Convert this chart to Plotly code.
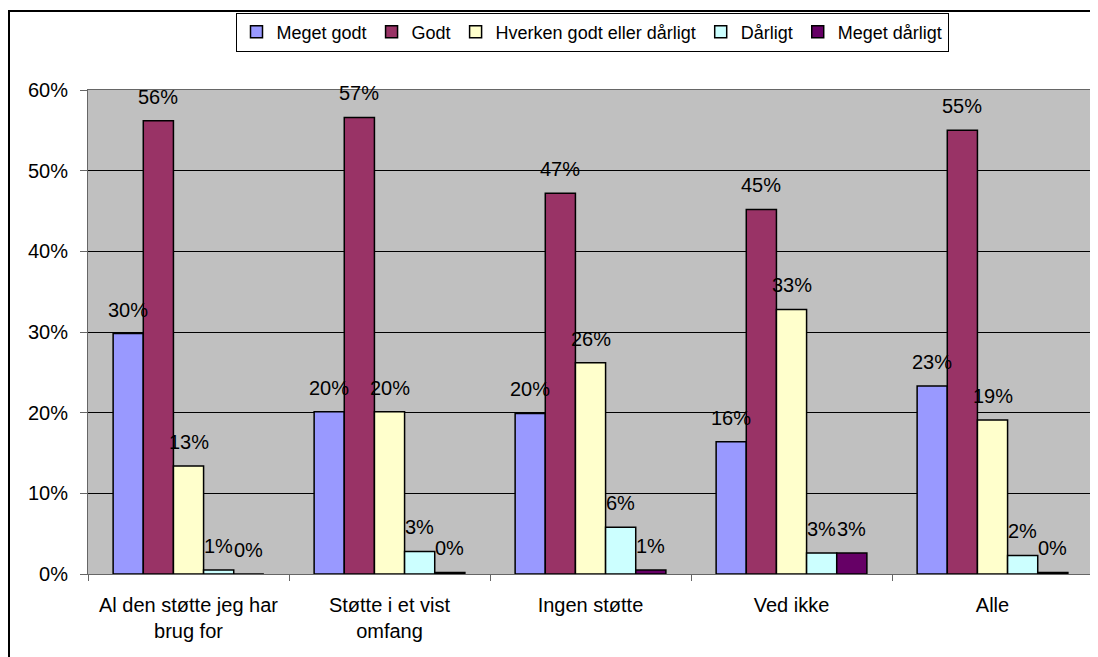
import math
import plotly.graph_objects as go

categories = ["Al den støtte jeg har<br>brug for", "Støtte i et vist<br>omfang", "Ingen støtte", "Ved ikke", "Alle"]
series_names = ["Meget godt", "Godt", "Hverken godt eller dårligt", "Dårligt", "Meget dårligt"]
meget_godt = [29.8, 20.1, 19.9, 16.4, 23.3]
godt = [56.2, 56.6, 47.2, 45.2, 55.0]
hverken = [13.4, 20.1, 26.2, 32.8, 19.1]
daarligt = [0.5, 2.8, 5.8, 2.6, 2.3]
meget_daarligt = [0.0, 0.2, 0.5, 2.6, 0.2]
colors = ["#9999FF", "#993366", "#FFFFCC", "#CCFFFF", "#660066"]
y_ticks = [0, 10, 20, 30, 40, 50, 60]
y_ticktext = [f"{t}%" for t in y_ticks]

all_series = [meget_godt, godt, hverken, daarligt, meget_daarligt]

# page body has an 8px default margin; size the figure to fit the window
OFF = 8
W, H = 1098 - OFF, 657 - OFF
ml, mr, mt = 88 - OFF, 5, 90 - OFF
mb = H - (574 - OFF)
font = "Liberation Sans"
fsize = 20
bargap = 0.25

fig = go.Figure()
for name, vals, col in zip(series_names, all_series, colors):
    fig.add_trace(go.Bar(
        name=name, x=categories, y=vals,
        marker=dict(color=col, line=dict(color="black", width=1.5)),
    ))

plot_w = W - ml - mr
plot_h = H - mt - mb
cat_w = plot_w / len(categories)
bar_w = cat_w * (1 - bargap) / len(series_names)
n = len(series_names)
for i, vals in enumerate(all_series):
    for c, v in zip(categories, vals):
        fig.add_annotation(
            x=c, y=v, xref="x", yref="y",
            text=f"{math.floor(v + 0.5)}%", showarrow=False,
            xshift=(i - (n - 1) / 2) * bar_w, yshift=11,
            yanchor="bottom", xanchor="center",
            font=dict(family=font, size=fsize, color="black"),
        )

# outer chart frame
fig.add_shape(type="rect", xref="paper", yref="paper",
              x0=(1 - ml) / plot_w, x1=1.03,
              y0=-0.3, y1=(H - mb - (11 - OFF)) / plot_h,
              line=dict(color="black", width=2), fillcolor="rgba(0,0,0,0)", layer="below")

fig.update_layout(
    width=W, height=H,
    margin=dict(l=ml, r=mr, t=mt, b=mb, autoexpand=False),
    paper_bgcolor="white", plot_bgcolor="#C0C0C0",
    barmode="group", bargap=bargap, bargroupgap=0,
    font=dict(family=font, size=fsize, color="black"),
    legend=dict(orientation="h", x=(592 - OFF - ml) / plot_w, xanchor="center",
                y=(H - mb - (32 - OFF)) / plot_h, yanchor="middle",
                bordercolor="black", borderwidth=1, bgcolor="white",
                font=dict(family=font, size=18), itemwidth=30, tracegroupgap=0),
    showlegend=True,
)
fig.update_xaxes(
    showline=True, linecolor="#666666", linewidth=1, mirror=True,
    ticks="outside", tickson="boundaries", ticklen=6, tickcolor="#666666",
    ticklabelstandoff=13,
    showgrid=False, tickfont=dict(size=fsize, family=font),
)
fig.update_yaxes(
    range=[0, 60], tickvals=y_ticks, ticktext=y_ticktext,
    showline=True, linecolor="#666666", linewidth=1, mirror=True,
    ticks="outside", ticklen=7, tickcolor="#666666",
    ticklabelstandoff=8,
    showgrid=True, gridcolor="black", gridwidth=1,
    zeroline=False, tickfont=dict(size=fsize, family=font),
)

fig.write_html("out.html")
